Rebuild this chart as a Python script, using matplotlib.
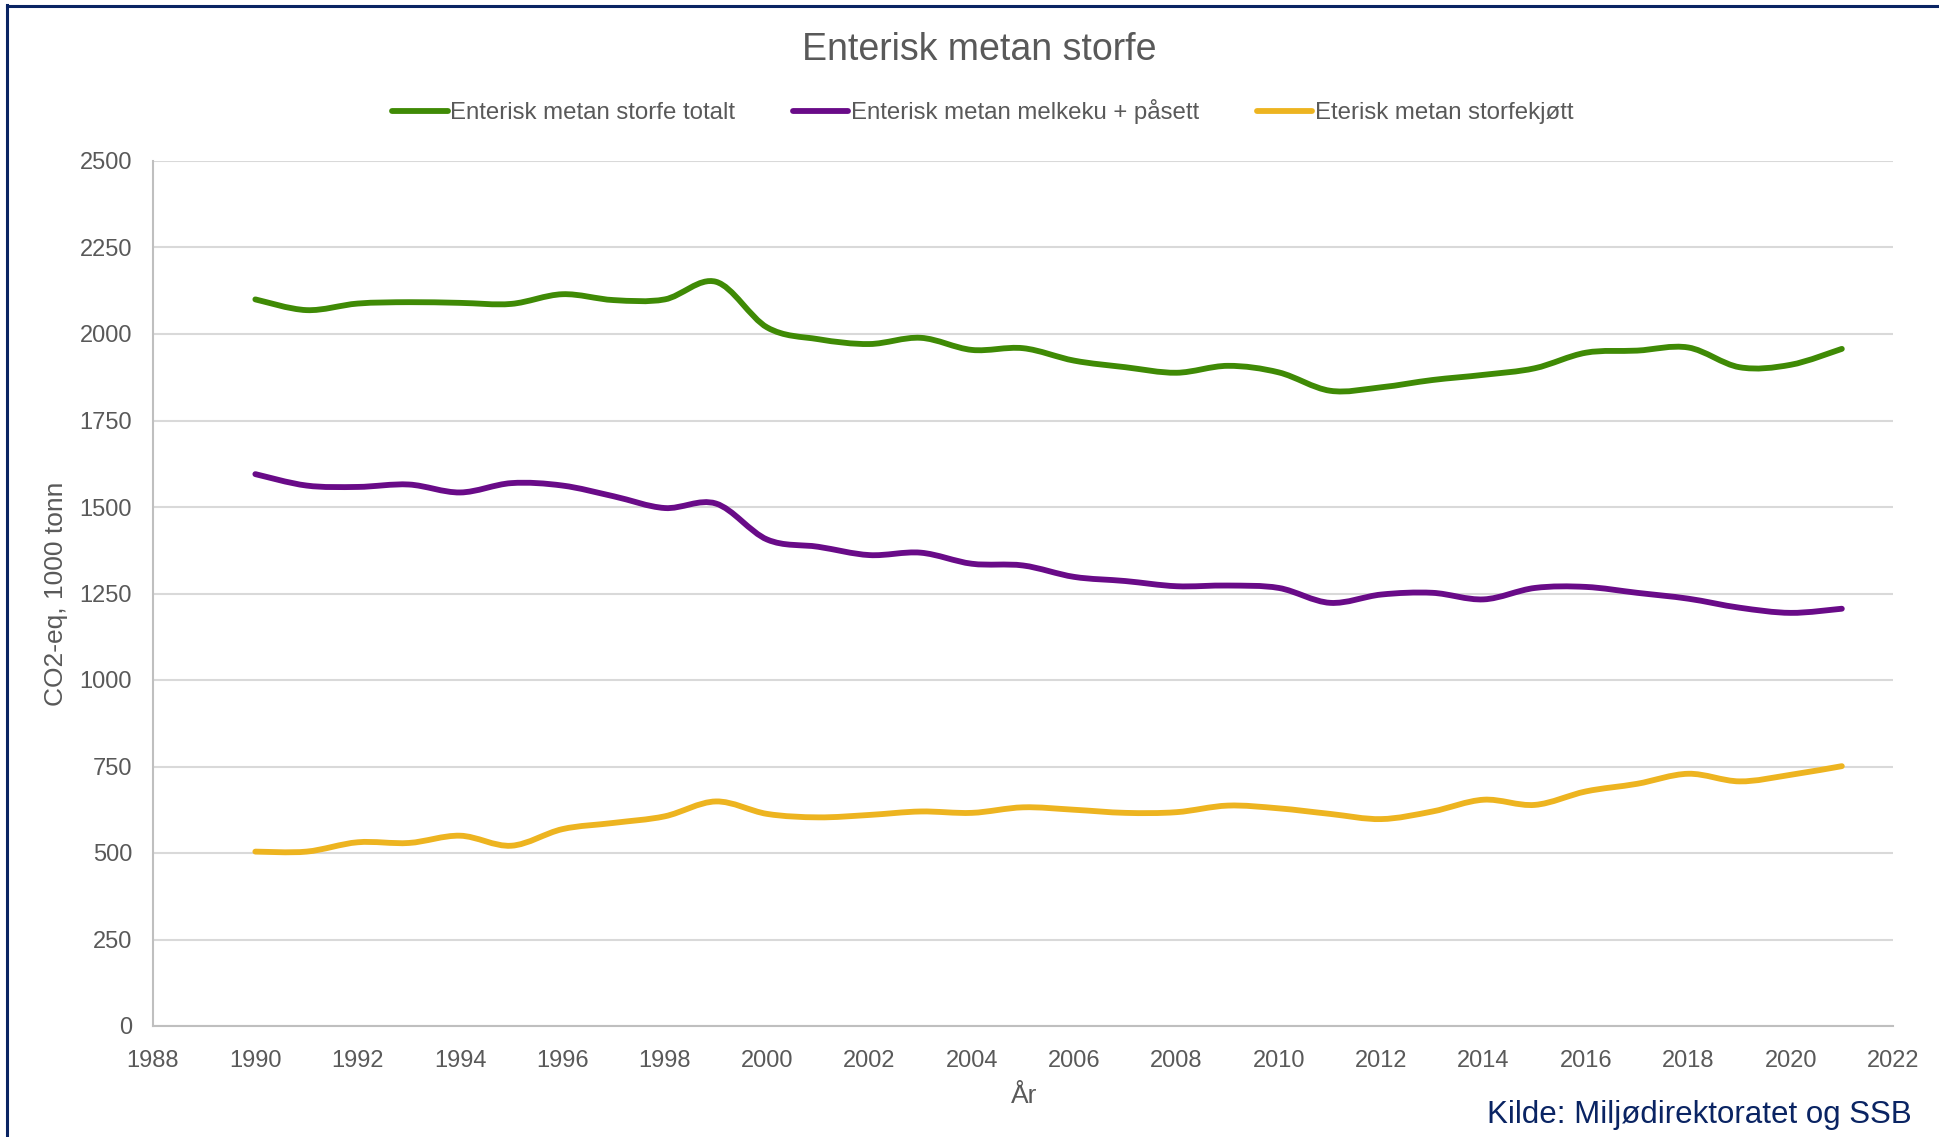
import matplotlib
matplotlib.use("Agg")
import matplotlib.pyplot as plt
from matplotlib.path import Path
from matplotlib.patches import PathPatch
from matplotlib.lines import Line2D

plt.rcParams["font.family"] = ["Liberation Sans", "DejaVu Sans"]

years = list(range(1990, 2022))
storfe_totalt = [2100, 2069, 2088, 2092, 2090, 2087, 2115, 2098, 2100, 2151,
                 2019, 1985, 1971, 1989, 1954, 1959, 1923, 1904, 1888, 1908,
                 1889, 1836, 1846, 1867, 1882, 1901, 1946, 1952, 1961, 1904,
                 1911, 1957]
melkeku_paasett = [1595, 1562, 1558, 1565, 1542, 1569, 1562, 1531, 1497, 1510,
                   1406, 1385, 1361, 1368, 1336, 1331, 1298, 1286, 1271, 1273,
                   1266, 1223, 1247, 1252, 1233, 1266, 1269, 1252, 1235, 1209,
                   1194, 1206]
storfekjott = [504, 504, 531, 529, 550, 521, 569, 587, 606, 649,
               613, 603, 610, 620, 616, 632, 625, 616, 618, 637,
               629, 613, 598, 620, 654, 639, 678, 700, 729, 707,
               726, 751]

series_names = ["Enterisk metan storfe totalt",
                "Enterisk metan melkeku + påsett",
                "Eterisk metan storfekjøtt"]
series_colors = ["#3F8A05", "#690B88", "#EDB420"]
x_ticks = list(range(1988, 2023, 2))
y_ticks = list(range(0, 2501, 250))

TEXT = "#595959"
NAVY = "#0A2463"
LW = 4.2


def smooth_path(xs, ys):
    """Smoothed line through the points using Catmull-Rom style Bezier segments."""
    pts = list(zip(xs, ys))
    n = len(pts)
    verts = [pts[0]]
    codes = [Path.MOVETO]
    for i in range(n - 1):
        p0 = pts[i - 1] if i > 0 else pts[i]
        p1 = pts[i]
        p2 = pts[i + 1]
        p3 = pts[i + 2] if i + 2 < n else pts[i + 1]
        c1 = (p1[0] + (p2[0] - p0[0]) / 6.0, p1[1] + (p2[1] - p0[1]) / 6.0)
        c2 = (p2[0] - (p3[0] - p1[0]) / 6.0, p2[1] - (p3[1] - p1[1]) / 6.0)
        verts += [c1, c2, p2]
        codes += [Path.CURVE4] * 3
    return Path(verts, codes)


fig = plt.figure(figsize=(19.39, 11.37), dpi=100)
ax = fig.add_axes([153 / 1939, 1 - 1026 / 1137, (1893 - 153) / 1939, (1026 - 161) / 1137])

for vals, col in zip([storfe_totalt, melkeku_paasett, storfekjott], series_colors):
    patch = PathPatch(smooth_path(years, vals), facecolor="none", edgecolor=col,
                      lw=LW, capstyle="round", joinstyle="round", zorder=3)
    ax.add_patch(patch)

ax.set_xlim(1988, 2022)
ax.set_ylim(0, 2500)
ax.set_xticks(x_ticks)
ax.set_yticks(y_ticks)
ax.tick_params(axis="both", length=0, labelsize=17, labelcolor=TEXT)
ax.tick_params(axis="x", pad=17)
ax.tick_params(axis="y", pad=15)
ax.grid(axis="y", color="#D9D9D9", lw=1.5, zorder=0)
ax.set_axisbelow(True)
for s in ["top", "right"]:
    ax.spines[s].set_visible(False)
for s in ["left", "bottom"]:
    ax.spines[s].set_color("#BFBFBF")
    ax.spines[s].set_linewidth(1.5)

fig.text(979 / 1939, 1 - 60 / 1137, "Enterisk metan storfe", ha="center",
         va="baseline", fontsize=27, color=TEXT)
fig.text(56 / 1939, 1 - 594 / 1137, "CO2-eq, 1000 tonn", rotation=90,
         ha="center", va="center", fontsize=19, color=TEXT)
fig.text(1024 / 1939, 1 - 1103 / 1137, "År", ha="center", va="baseline",
         fontsize=19, color=TEXT)
fig.text(1912 / 1939, 1 - 1123 / 1137, "Kilde: Miljødirektoratet og SSB",
         ha="right", va="baseline", fontsize=22.5, color=NAVY)

handles = [Line2D([0], [0], color=c, lw=LW, solid_capstyle="round") for c in series_colors]
leg = fig.legend(handles, series_names, loc="center", ncol=3,
                 bbox_to_anchor=(983 / 1939, 1 - 111.5 / 1137), frameon=False,
                 fontsize=17.3, handlelength=2.3, handletextpad=0.12,
                 columnspacing=2.4, labelcolor=TEXT)

# frame along the top and left edge
fig.add_artist(Line2D([6.5 / 1939, 1], [1 - 5.7 / 1137, 1 - 5.7 / 1137],
                      transform=fig.transFigure, color=NAVY, lw=2.2))
fig.add_artist(Line2D([6.5 / 1939, 6.5 / 1939], [0, 1 - 4.5 / 1137],
                      transform=fig.transFigure, color=NAVY, lw=2.2))

fig.savefig("out.png", dpi=100, facecolor="white")
